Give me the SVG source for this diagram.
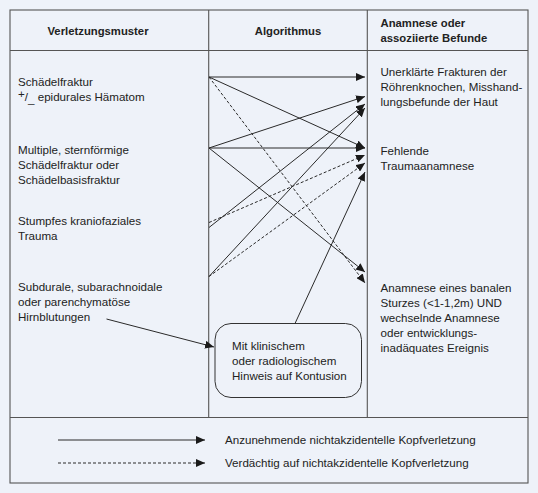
<svg xmlns="http://www.w3.org/2000/svg" width="538" height="493" viewBox="0 0 538 493">
<defs>
<style>
text{font-family:"Liberation Sans",Arial,sans-serif;font-size:11.6px;fill:#222}
.h{font-weight:bold;font-size:11.3px}
.frame{fill:none;stroke:#555;stroke-width:1.1}
.c{fill:none;stroke:#2a2a2a;stroke-width:1;marker-end:url(#ah)}
.d{stroke-dasharray:3 2}
</style>
<marker id="ah" markerUnits="userSpaceOnUse" markerWidth="10" markerHeight="8" refX="9" refY="4" orient="auto">
<path d="M0,0 L9,4 L0,8 Z" fill="#1a1a1a"/>
</marker>
</defs>
<rect x="0" y="0" width="538" height="493" fill="#eef2f9"/>
<g id="table">
<rect class="frame" x="10" y="10" width="518" height="473"/>
<line class="frame" x1="10" y1="50.5" x2="528" y2="50.5"/>
<line class="frame" x1="208.7" y1="10" x2="208.7" y2="417.5"/>
<line class="frame" x1="367.3" y1="10" x2="367.3" y2="417.5"/>
<line class="frame" x1="10" y1="417.5" x2="528" y2="417.5"/>
</g>
<g id="headers">
<text class="h" x="98" y="35" text-anchor="middle">Verletzungsmuster</text>
<text class="h" x="288" y="35" text-anchor="middle">Algorithmus</text>
<text class="h" x="380.5" y="27">Anamnese oder</text>
<text class="h" x="380.5" y="42">assoziierte Befunde</text>
</g>
<g id="n-schaedelfraktur">
<text x="18" y="86">Schädelfraktur</text>
<text x="18" y="101"><tspan dy="-3">+</tspan><tspan dy="3">/</tspan><tspan dy="2">_</tspan><tspan dy="-2"> epidurales Hämatom</tspan></text>
</g>
<g id="n-multiple">
<text x="18" y="154">Multiple, sternförmige</text>
<text x="18" y="169">Schädelfraktur oder</text>
<text x="18" y="184">Schädelbasisfraktur</text>
</g>
<g id="n-stumpfes">
<text x="18" y="225">Stumpfes kraniofaziales</text>
<text x="18" y="240">Trauma</text>
</g>
<g id="n-subdurale">
<text x="18" y="291">Subdurale, subarachnoidale</text>
<text x="18" y="306">oder parenchymatöse</text>
<text x="18" y="321">Hirnblutungen</text>
</g>
<g id="n-kontusion">
<rect x="215" y="323.5" width="146.5" height="74" rx="16" ry="16" fill="none" stroke="#333" stroke-width="1"/>
<text x="232" y="350">Mit klinischem</text>
<text x="232" y="365">oder radiologischem</text>
<text x="232" y="380">Hinweis auf Kontusion</text>
</g>
<g id="n-frakturen">
<text x="380.5" y="76">Unerklärte Frakturen der</text>
<text x="380.5" y="91">Röhrenknochen, Misshand-</text>
<text x="380.5" y="106">lungsbefunde der Haut</text>
</g>
<g id="n-fehlende">
<text x="380.5" y="155">Fehlende</text>
<text x="380.5" y="170">Traumaanamnese</text>
</g>
<g id="n-sturz">
<text x="380.5" y="292">Anamnese eines banalen</text>
<text x="380.5" y="307">Sturzes (&lt;1-1,2m) UND</text>
<text x="380.5" y="322">wechselnde Anamnese</text>
<text x="380.5" y="337">oder entwicklungs-</text>
<text x="380.5" y="352">inadäquates Ereignis</text>
</g>
<g id="connectors">
<path class="c" d="M209,77 L365,77"/>
<path class="c" d="M209,77 L365,148"/>
<path class="c d" d="M209,77 L365,283"/>
<path class="c" d="M209,148 L365,96.5"/>
<path class="c" d="M209,148 L365,148"/>
<path class="c" d="M209,148 L365,272"/>
<path class="c d" d="M209,222.5 L365,155"/>
<path class="c" d="M209,227.5 L365,104"/>
<path class="c" d="M209,276.5 L365,108"/>
<path class="c d" d="M209,276.5 L365,163"/>
<path class="c" d="M295,323.5 L365,172"/>
<path class="c" d="M106.5,319 L214,347"/>
</g>
<g id="legend">
<path class="c" d="M58,440 L205,440"/>
<path class="c d" d="M58,463 L205,463"/>
<text x="225" y="444">Anzunehmende nichtakzidentelle Kopfverletzung</text>
<text x="225" y="467">Verdächtig auf nichtakzidentelle Kopfverletzung</text>
</g>
</svg>
